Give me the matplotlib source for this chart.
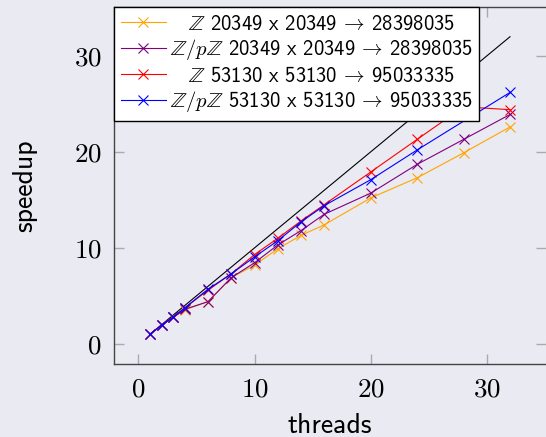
import matplotlib
matplotlib.use("Agg")
import matplotlib.pyplot as plt

plt.rcParams['mathtext.fontset'] = 'cm'
plt.rcParams['font.family'] = ['cmss10', 'DejaVu Sans']
plt.rcParams['axes.unicode_minus'] = False

# threads used in the runs
threads = [1, 2, 3, 4, 6, 8, 10, 12, 14, 16, 20, 24, 28, 32]
threads_zp_big = [1, 2, 3, 4, 6, 8, 10, 12, 14, 16, 20, 24, 32]
# speedup for each run
z_small = [1, 1.95, 2.75, 3.55, 4.4, 6.9, 8.2, 9.9, 11.3, 12.4, 15.2, 17.3, 19.9, 22.6]
zp_small = [1, 1.95, 2.75, 3.6, 4.4, 6.9, 8.45, 10.3, 11.8, 13.5, 15.7, 18.7, 21.3, 23.9]
z_big = [1, 1.95, 2.8, 3.75, 5.6, 7.3, 9.3, 11.0, 12.8, 14.5, 17.9, 21.3, 24.7, 24.4]
zp_big = [1, 1.95, 2.8, 3.75, 5.7, 7.3, 9.05, 10.75, 12.7, 14.4, 17.1, 20.2, 26.2]
ideal = [1, 32]

labels = [
    r'$\hspace{1.0}\mathbb{Z}$ 20349 x 20349 $\!\rightarrow\!$ 28398035',
    r'$\mathbb{Z}/p\mathbb{Z}$ 20349 x 20349 $\!\rightarrow\!$ 28398035',
    r'$\hspace{1.0}\mathbb{Z}$ 53130 x 53130 $\!\rightarrow\!$ 95033335',
    r'$\mathbb{Z}/p\mathbb{Z}$ 53130 x 53130 $\!\rightarrow\!$ 95033335',
]
colors = ['#ffa500', '#800080', '#ff0000', '#0000ff']
bg = '#eaeaf2'

fig = plt.figure(figsize=(5.46, 4.37), dpi=100, facecolor=bg)
ax = fig.add_axes([114/546, 73/437, 432/546, 357/437], facecolor=bg)

ax.plot(ideal, ideal, color='black', lw=0.8, zorder=1)
series = [(threads, z_small), (threads, zp_small), (threads, z_big), (threads_zp_big, zp_big)]
for (t, s), c, lab in zip(series, colors, labels):
    ax.plot(t, s, color=c, lw=0.8, marker='x', ms=7, mew=0.8, label=lab, zorder=2)

ax.set_xlim(-2.1, 35.1)
ax.set_ylim(-2.1, 35.1)
ax.set_xticks([0, 10, 20, 30])
ax.set_yticks([0, 10, 20, 30])
ax.set_xticklabels(['$0$', '$10$', '$20$', '$30$'])
ax.set_yticklabels(['$0$', '$10$', '$20$', '$30$'])
ax.tick_params(direction='in', length=7, width=1, color='#aaaaaa', labelsize=19.5,
               top=True, right=True, pad=9)
for sp in ['left', 'bottom', 'top']:
    ax.spines[sp].set_color('#444444')
    ax.spines[sp].set_linewidth(1.0)
ax.spines['right'].set_visible(False)

ax.set_xlabel('threads', fontsize=20, labelpad=8)
ax.set_ylabel('speedup', fontsize=20, labelpad=26)

leg = ax.legend(loc='upper left', bbox_to_anchor=(0, 1), borderaxespad=0,
                fontsize=14.8, fancybox=False, framealpha=1, edgecolor='black',
                handlelength=2.2, handletextpad=0.2, labelspacing=0.17,
                borderpad=0.32)
leg.get_frame().set_linewidth(1.0)
leg.set_zorder(5)

fig.savefig('out.png', dpi=100, facecolor=bg)
